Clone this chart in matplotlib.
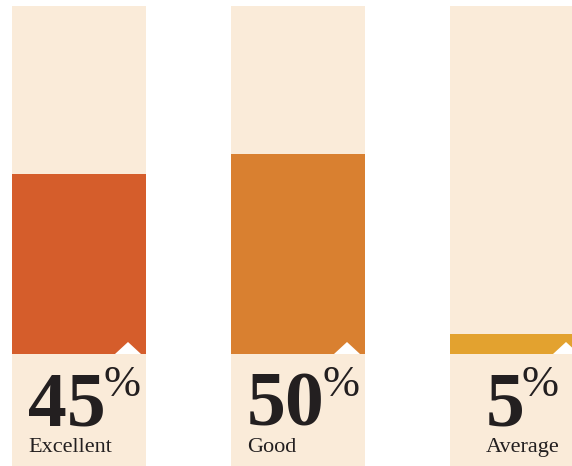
import matplotlib.pyplot as plt
from matplotlib.patches import Rectangle, Polygon

categories = ['Excellent', 'Good', 'Average']
values = [45, 50, 5]
bar_colors = ['#D55D2B', '#D98030', '#E3A22F']

bg = '#FAEBD9'
ink = '#231F20'
serif = ['Liberation Serif', 'DejaVu Serif']

fig = plt.figure(figsize=(5.72, 4.66), dpi=100)
ax = fig.add_axes([0, 0, 1, 1])
ax.set_xlim(-79 / 219, (572 - 79) / 219)
ax.set_ylim(-28, 88.5)
ax.axis('off')

width = 134 / 219
for i, (name, v, c) in enumerate(zip(categories, values, bar_colors)):
    # background panel, including the label area under the bar
    ax.add_patch(Rectangle((i - width / 2, -28), width, 87 + 28, color=bg, lw=0))
    ax.bar(i, v, width=width, color=c, linewidth=0)
    # little white notch at the bottom right of each bar
    tx = i + 49 / 219
    ax.add_patch(Polygon([(tx - 13 / 219, 0), (tx, 3), (tx + 13 / 219, 0)],
                         closed=True, color='white', lw=0))

    num = ax.text(i - 12 / 219, -17.75, f'{v}', ha='center', va='baseline',
                  fontsize=56, fontweight='bold', family=serif, color=ink)
    ax.annotate('%', xy=(1, -10.6), xycoords=(num, 'data'),
                xytext=(-2, 0), textcoords='offset points',
                ha='left', va='baseline', fontsize=32, family=serif, color=ink)
    ax.annotate(name, xy=(0, -24.5), xycoords=(num, 'data'),
                ha='left', va='baseline', fontsize=16, family=serif, color=ink)

fig.savefig('out.png', dpi=100)
